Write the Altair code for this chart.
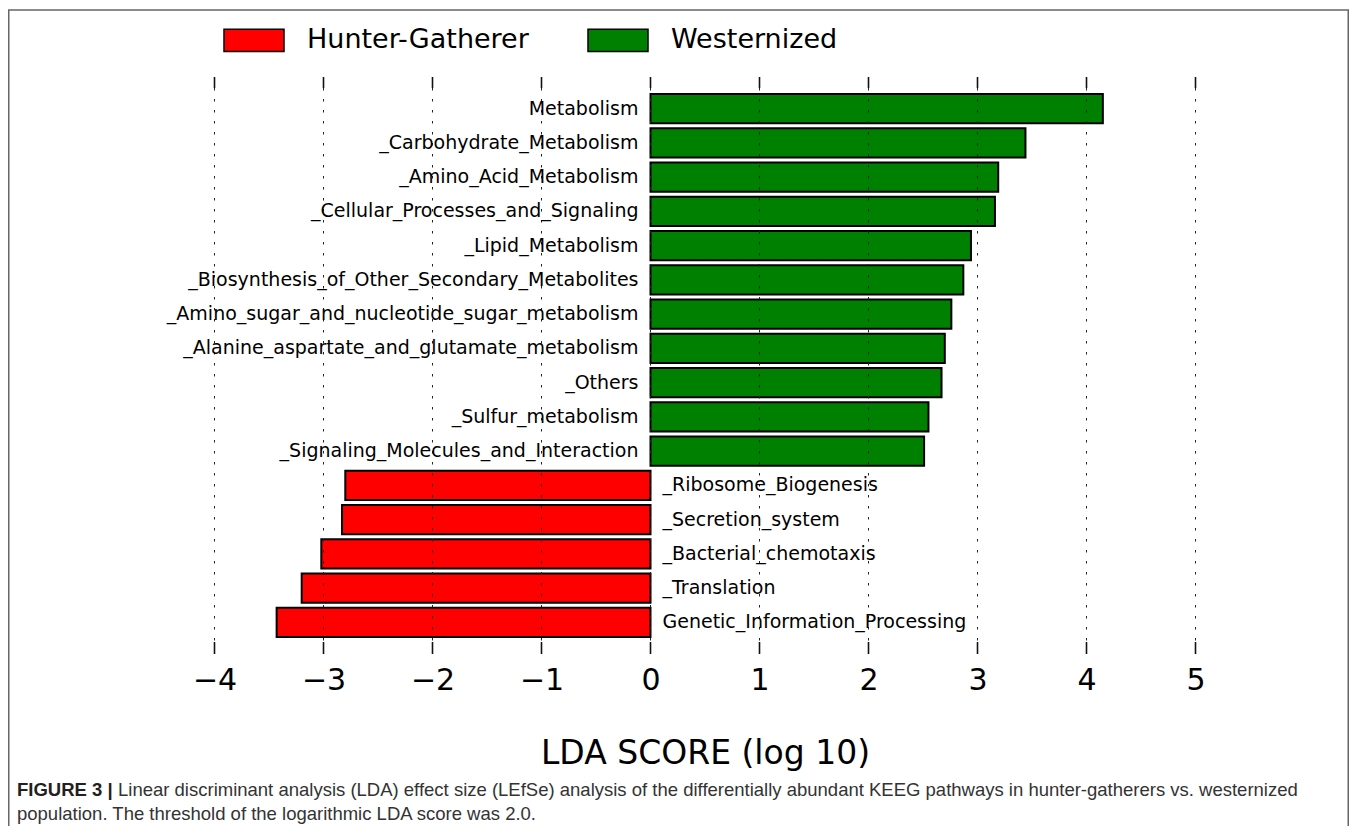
import altair as alt
import pandas as pd

pathways = [
    "Metabolism",
    "_Carbohydrate_Metabolism",
    "_Amino_Acid_Metabolism",
    "_Cellular_Processes_and_Signaling",
    "_Lipid_Metabolism",
    "_Biosynthesis_of_Other_Secondary_Metabolites",
    "_Amino_sugar_and_nucleotide_sugar_metabolism",
    "_Alanine_aspartate_and_glutamate_metabolism",
    "_Others",
    "_Sulfur_metabolism",
    "_Signaling_Molecules_and_Interaction",
    "_Ribosome_Biogenesis",
    "_Secretion_system",
    "_Bacterial_chemotaxis",
    "_Translation",
    "Genetic_Information_Processing",
]
scores = [4.15, 3.44, 3.19, 3.16, 2.94, 2.87, 2.76, 2.70, 2.67, 2.55, 2.51,
          -2.80, -2.83, -3.02, -3.20, -3.43]
groups = ["Westernized"] * 11 + ["Hunter-Gatherer"] * 5
group_names = ["Hunter-Gatherer", "Westernized"]
group_colors = ["#ff0000", "#008000"]
tick_values = [-4, -3, -2, -1, 0, 1, 2, 3, 4, 5]

caption_bold = "FIGURE 3 |"
caption_line1 = ("Linear discriminant analysis (LDA) effect size (LEfSe) analysis of the "
                 "differentially abundant KEEG pathways in hunter-gatherers vs. westernized")
caption_line2 = "population. The threshold of the logarithmic LDA score was 2.0."

df = pd.DataFrame({"pathway": pathways, "score": scores, "group": groups})
ticks_df = pd.DataFrame({"score": tick_values})
one = pd.DataFrame({"a": [0]})

W, H = 1090, 577
PAD_L, PAD_T, PAD_R, PAD_B = 152, 69, 99, 172
FONT = "DejaVu Sans"

x_scale = alt.Scale(domain=[-4.5, 5.5], nice=False, zero=False)
x_axis = alt.Axis(values=tick_values, format="d", grid=False, ticks=False, domain=False,
                  labelFontSize=30, labelFont=FONT, labelColor="black",
                  labelPadding=11, title="LDA SCORE (log 10)",
                  titleFontSize=33, titleFont=FONT, titleFontWeight="normal",
                  titleColor="black", titlePadding=42)
x_enc = alt.X("score:Q", scale=x_scale, axis=x_axis, title="LDA SCORE (log 10)")
y_enc = alt.Y("pathway:N", sort=pathways,
              scale=alt.Scale(paddingInner=0.15, paddingOuter=0.5), axis=None)

bars = alt.Chart(df).mark_bar(stroke="black", strokeWidth=2).encode(
    x=x_enc,
    x2=alt.datum(0),
    y=y_enc,
    color=alt.Color("group:N",
                    scale=alt.Scale(domain=group_names, range=group_colors),
                    legend=alt.Legend(orient="none", legendX=63, legendY=-68,
                                      direction="horizontal", title=None,
                                      symbolType="M-1,-0.37H1V0.37H-1Z",
                                      symbolSize=3600, symbolStrokeColor="black",
                                      symbolStrokeWidth=1.5, symbolOpacity=1,
                                      labelFontSize=27, labelFont=FONT,
                                      labelColor="black", labelOffset=22,
                                      labelLimit=0, columnPadding=56, padding=0)),
)

grid = alt.Chart(ticks_df).mark_rule(color="#222222", strokeWidth=1,
                                     strokeDash=[2.5, 8.5]).encode(x=x_enc)
top_ticks = alt.Chart(ticks_df).mark_rule(color="#111111", strokeWidth=1.6).encode(
    x=x_enc, y=alt.value(0), y2=alt.value(11))
bottom_ticks = alt.Chart(ticks_df).mark_rule(color="#111111", strokeWidth=1.6).encode(
    x=x_enc, y=alt.value(H - 12), y2=alt.value(H))

labels_pos = alt.Chart(df).transform_filter(alt.datum.score > 0).mark_text(
    align="right", baseline="middle", dx=-12, fontSize=19, font=FONT, color="black"
).encode(x=alt.datum(0), y=y_enc, text="pathway:N")
labels_neg = alt.Chart(df).transform_filter(alt.datum.score < 0).mark_text(
    align="left", baseline="middle", dx=12, fontSize=19, font=FONT, color="black"
).encode(x=alt.datum(0), y=y_enc, text="pathway:N")

CAP_FONT = "Liberation Sans"
CAP_SIZE = 18.5
cap_x = 17 - 8 - PAD_L
cap_y1 = 790 - 8 - PAD_T
cap_y2 = 814 - 8 - PAD_T
cap_b = alt.Chart(one).mark_text(align="left", baseline="middle", fontSize=CAP_SIZE,
                                 font=CAP_FONT, fontWeight="bold", color="#231f20").encode(
    x=alt.value(cap_x), y=alt.value(cap_y1), text=alt.value(caption_bold))
cap_1 = alt.Chart(one).mark_text(align="left", baseline="middle", fontSize=CAP_SIZE,
                                 font=CAP_FONT, color="#333333").encode(
    x=alt.value(cap_x + 101), y=alt.value(cap_y1), text=alt.value(caption_line1))
cap_2 = alt.Chart(one).mark_text(align="left", baseline="middle", fontSize=CAP_SIZE,
                                 font=CAP_FONT, color="#333333").encode(
    x=alt.value(cap_x), y=alt.value(cap_y2), text=alt.value(caption_line2))

border = alt.Chart(one).mark_rect(fill=None, stroke="#666666", strokeWidth=1.5).encode(
    x=alt.value(-PAD_L + 0.75), x2=alt.value(W + PAD_R - 0.75),
    y=alt.value(2 - PAD_T), y2=alt.value(900))

chart = alt.layer(
    bars, grid, top_ticks, bottom_ticks, labels_pos, labels_neg,
    cap_b, cap_1, cap_2, border
).properties(
    width=W, height=H,
    autosize=alt.AutoSizeParams(type="none"),
    padding={"left": PAD_L, "top": PAD_T, "right": PAD_R, "bottom": PAD_B},
).configure_view(stroke=None)

chart.save("out.html", embed_options={"renderer": "svg", "actions": False})
